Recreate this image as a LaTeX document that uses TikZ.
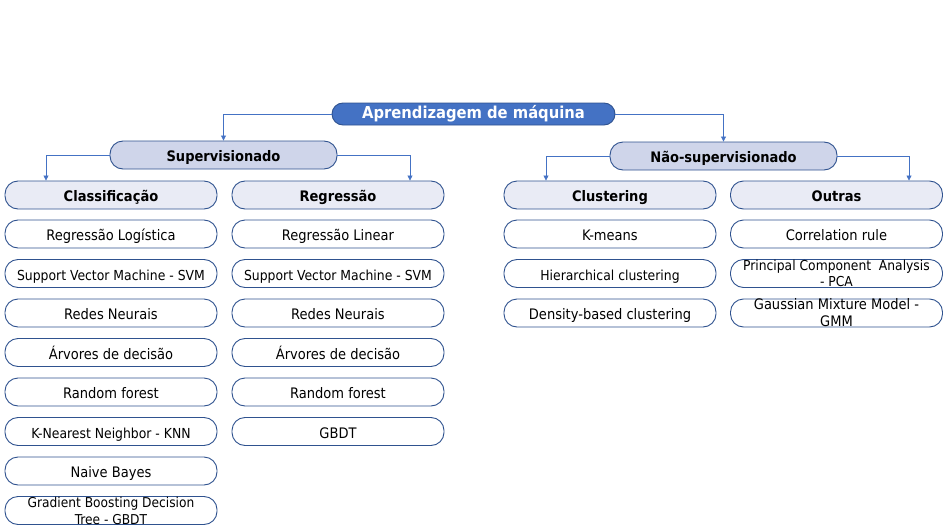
\documentclass[tikz,border=0pt]{standalone}
\usepackage{fontspec}
\setmainfont{DejaVu Sans Condensed}
\usetikzlibrary{arrows.meta}
\definecolor{mlblue}{HTML}{4472C4}
\definecolor{mlborder}{HTML}{2F528F}
\definecolor{mlmid}{HTML}{CFD5EA}
\definecolor{mllight}{HTML}{E9EBF5}
\tikzset{
    box/.style={draw=mlborder, line width=0.9pt, rounded corners=13pt,
        minimum width=212pt, minimum height=28pt, inner sep=0pt,
        text height=13pt, text depth=0pt,
        font=\fontsize{14.5}{17}\selectfont},
    rootbox/.style={box, fill=mlblue, draw=mlborder, text=white, minimum width=283pt,
        minimum height=22pt, rounded corners=11pt, text height=9pt,
        font=\fontsize{16.4}{18}\selectfont\bfseries},
    groupbox/.style={box, fill=mlmid, minimum width=227pt, font=\fontsize{14.5}{17}\selectfont\bfseries},
    headbox/.style={box, fill=mllight, font=\fontsize{14.5}{17}\selectfont\bfseries},
    leaf/.style={box, fill=white},
    smalltext/.style={font=\fontsize{13.8}{16}\selectfont},
    twoline/.style={align=center, inner sep=0pt, font=\fontsize{13.6}{17}\selectfont},
    link/.style={draw=mlblue, line width=0.8pt, -{Triangle[length=5pt,width=5pt]}}
}
\begin{document}
\begin{tikzpicture}[x=1pt,y=-1pt]
	\useasboundingbox (0,0) rectangle (951,530);
	% top levels
	\node[rootbox] (ml) at (473.5,114) {Aprendizagem de máquina};
	\node[groupbox] (sup) at (223.5,155) {Supervisionado};
	\node[groupbox] (nsup) at (723.5,156) {Não-supervisionado};
	\node[headbox] (cls) at (111,195) {Classificação};
	\node[headbox] (reg) at (338,195) {Regressão};
	\node[headbox] (clu) at (610,195) {Clustering};
	\node[headbox] (out) at (836.5,195) {Outras};
	\draw[link] (ml.west) -| (sup.north);
	\draw[link] (ml.east) -| (nsup.north);
	\draw[link] (sup.west) -| ([xshift=-65pt]cls.north);
	\draw[link] (sup.east) -| ([xshift=72pt]reg.north);
	\draw[link] (nsup.west) -| ([xshift=-64pt]clu.north);
	\draw[link] (nsup.east) -| ([xshift=72.5pt]out.north);
	% Classificação
	\node[leaf] (c1) at (111,234) {Regressão Logística};
	\node[leaf, smalltext] (c2) at (111,273.5) {Support Vector Machine - SVM};
	\node[leaf] (c3) at (111,313) {Redes Neurais};
	\node[leaf] (c4) at (111,352.5) {Árvores de decisão};
	\node[leaf] (c5) at (111,392) {Random forest};
	\node[leaf, smalltext] (c6) at (111,431.5) {K-Nearest Neighbor - KNN};
	\node[leaf] (c7) at (111,471) {Naive Bayes};
	\node[leaf] (c8) at (111,510.5) {};
	\node[twoline] at (c8) {Gradient Boosting Decision\\Tree - GBDT};
	% Regressão
	\node[leaf] (r1) at (338,234) {Regressão Linear};
	\node[leaf, smalltext] (r2) at (338,273.5) {Support Vector Machine - SVM};
	\node[leaf] (r3) at (338,313) {Redes Neurais};
	\node[leaf] (r4) at (338,352.5) {Árvores de decisão};
	\node[leaf] (r5) at (338,392) {Random forest};
	\node[leaf] (r6) at (338,431.5) {GBDT};
	% Clustering
	\node[leaf] (k1) at (610,234) {K-means};
	\node[leaf, smalltext] (k2) at (610,273.5) {Hierarchical clustering};
	\node[leaf] (k3) at (610,313) {Density-based clustering};
	% Outras
	\node[leaf] (o1) at (836.5,234) {Correlation rule};
	\node[leaf] (o2) at (836.5,273.5) {};
	\node[twoline, font=\fontsize{13.7}{16}\selectfont] at (o2) {Principal Component\ \ Analysis\\- PCA};
	\node[leaf] (o3) at (836.5,313) {};
	\node[twoline, font=\fontsize{14.5}{17}\selectfont] at (o3) {Gaussian Mixture Model -\\GMM};
\end{tikzpicture}
\end{document}
